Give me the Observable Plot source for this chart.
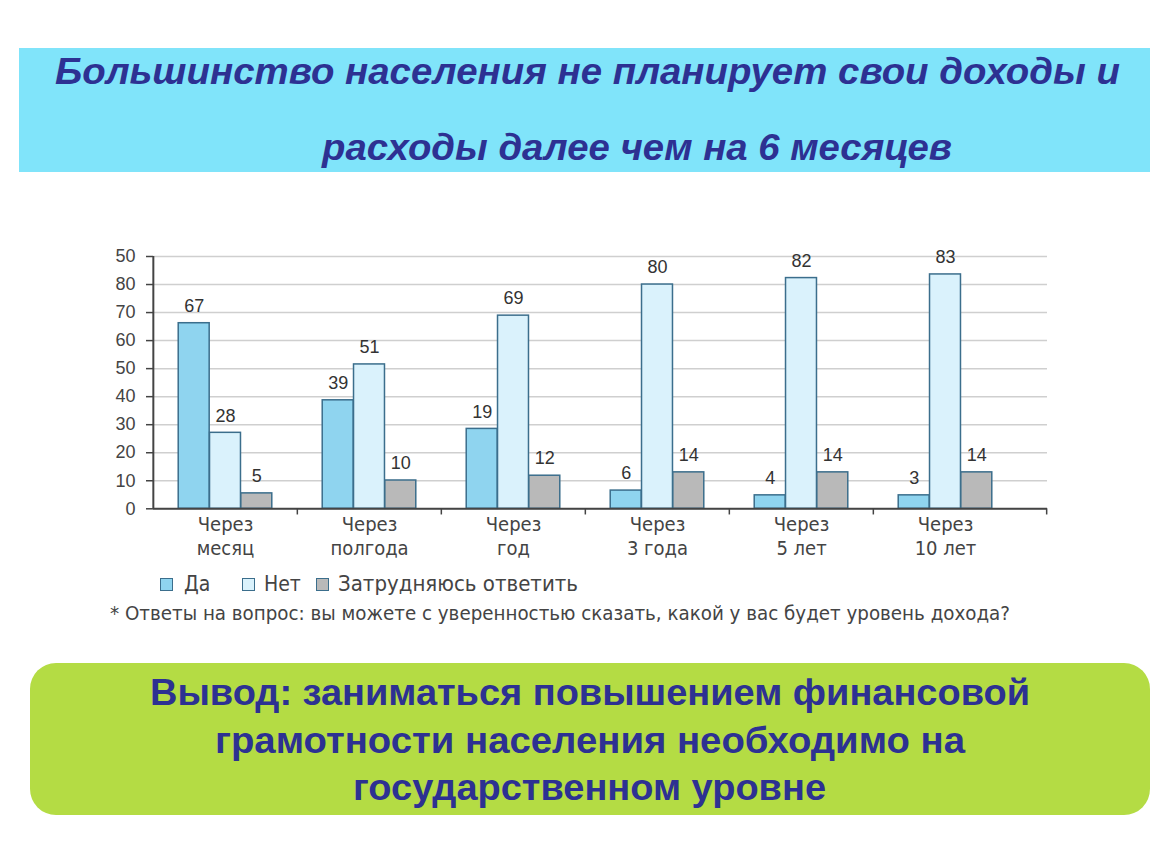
<!DOCTYPE html>
<html>
<head>
<meta charset="utf-8">
<script src="https://cdn.jsdelivr.net/npm/d3@7"></script>
<script src="https://cdn.jsdelivr.net/npm/@observablehq/plot@0.6"></script>
<style>
  html, body { margin: 0; padding: 0; background: #fff; }
  body { width: 1150px; height: 864px; position: relative; overflow: hidden; }
  .band { position: absolute; left: 19px; top: 48px; width: 1131px; height: 124px; background: #80e4fa; }
  .t { position: absolute; white-space: nowrap; color: #2d3192; font-family: "Liberation Sans", Arial, sans-serif;
       font-weight: bold; font-style: italic; font-size: 36px; line-height: 42px; }
  #t1 { top: 51px; }
  #t2 { top: 127px; }
  #chart { position: absolute; left: 0; top: 240px; }
  .cond { position: absolute; white-space: nowrap; font-family: "DejaVu Sans Condensed", "Liberation Sans", sans-serif; color: #444; }
  .sw { position: absolute; width: 11px; height: 11px; border: 1.5px solid #3b6e8c; }
  .green { position: absolute; left: 30px; top: 663px; width: 1120px; height: 152px; border-radius: 26px; background: #b4dc44; }
  .g { position: absolute; white-space: nowrap; color: #2d3192;
       font-family: "Liberation Sans", Arial, sans-serif; font-weight: bold; font-size: 36px; line-height: 42px; }
</style>
</head>
<body>
<div class="band"></div>
<div class="t fit" id="t1" data-l="55" data-r="1120">Большинство населения не планирует свои доходы и</div>
<div class="t fit" id="t2" data-l="322" data-r="952">расходы далее чем на 6 месяцев</div>
<div id="chart"></div>
<div id="legend"></div>
<div id="note" class="cond fit" data-l="110" data-r="1010" style="top:601px; font-size:20px; line-height:24px">* Ответы на вопрос: вы можете с уверенностью сказать, какой у вас будет уровень дохода?</div>
<div class="green"></div>
<div class="g fit" data-l="150" data-r="1030" style="top:672px">Вывод: заниматься повышением финансовой</div>
<div class="g fit" data-l="215" data-r="965" style="top:720px">грамотности населения необходимо на</div>
<div class="g fit" data-l="353" data-r="826" style="top:767px">государственном уровне</div>
<script>
// ---- data ----
const categories = ["Через месяц", "Через полгода", "Через год", "Через 3 года", "Через 5 лет", "Через 10 лет"];
const seriesNames = ["Да", "Нет", "Затрудняюсь ответить"];
// bar heights as drawn in the picture
const yesValues = [66.2, 38.7, 28.5, 6.5, 4.8, 4.8];
const noValues = [27.1, 51.5, 68.9, 80.0, 82.3, 83.6];
const unsureValues = [5.5, 10.1, 11.8, 13.0, 13.0, 13.0];
// printed value labels
const yesLabels = [67, 39, 19, 6, 4, 3];
const noLabels = [28, 51, 69, 80, 82, 83];
const unsureLabels = [5, 10, 12, 14, 14, 14];
// y axis ticks and their printed labels
const yTicks = [0, 10, 20, 30, 40, 50, 60, 70, 80, 90];
const yTickLabels = ["0", "10", "20", "30", "40", "50", "60", "70", "80", "50"];

const colors = ["#8fd4ef", "#daf2fc", "#b9b9b9"];
const strokeC = "#3b6e8c";

const rows = (vals, labs) => categories.map((c, i) => ({cat: c, value: vals[i], label: labs[i]}));
const yesRows = rows(yesValues, yesLabels);
const noRows = rows(noValues, noLabels);
const unsRows = rows(unsureValues, unsureLabels);

const W = 1150, H = 325;
const xRange = [152, 1018];
const bw = (xRange[1] - xRange[0]) / categories.length;
const barW = 31.3;
const half = bw / 2;

const numFont = "'Liberation Sans', Arial, sans-serif";
const condFont = "'DejaVu Sans Condensed', 'Liberation Sans', sans-serif";

const barOpts = (idx) => ({
  x: "cat", y: "value", fill: colors[idx], stroke: strokeC, strokeWidth: 1.5,
  insetLeft: half - barW * 1.5 + barW * idx,
  insetRight: half - barW * 1.5 + barW * (2 - idx)
});
const labOpts = (idx) => ({
  x: "cat", y: "value", text: "label", dx: (idx - 1) * barW, dy: -17,
  fontSize: 18, fill: "#333", fontFamily: numFont
});

const plot = Plot.plot({
  width: W, height: H,
  marginLeft: 153, marginRight: 103, marginTop: 16, marginBottom: 56.7,
  style: {background: "transparent", overflow: "visible"},
  x: {domain: categories, range: xRange, padding: 0, label: null},
  y: {domain: [0, 90], label: null},
  marks: [
    Plot.gridY(yTicks, {stroke: "#cfcfcf", strokeOpacity: 1, strokeWidth: 1.5}),
    Plot.axisY(yTicks, {tickFormat: (d, i) => yTickLabels[i], tickSize: 7, tickPadding: 11, fontSize: 18,
      fill: "#444", stroke: "#444", strokeWidth: 1.5, fontFamily: numFont, label: null}),
    Plot.axisX({tickSize: 0, tickPadding: 5, fontSize: 20, lineHeight: 1.2, fill: "#444",
      fontFamily: condFont, tickFormat: d => d.replace(" ", "\n"), label: null}),
    Plot.barY(yesRows, barOpts(0)),
    Plot.barY(noRows, barOpts(1)),
    Plot.barY(unsRows, barOpts(2)),
    Plot.text(yesRows, labOpts(0)),
    Plot.text(noRows, labOpts(1)),
    Plot.text(unsRows, labOpts(2)),
    Plot.ruleY([0], {stroke: "#444", strokeWidth: 2}),
    Plot.ruleX([categories[0]], {dx: -half, y1: 0, y2: 90, stroke: "#444", strokeWidth: 2}),
    Plot.ruleX(categories.slice(1), {dx: -half, y1: 0, y2: -2.2, stroke: "#444", strokeWidth: 1.5}),
    Plot.ruleX([categories[categories.length - 1]], {dx: half + 29, y1: 0, y2: -2.2, stroke: "#444", strokeWidth: 1.5})
  ]
});
document.getElementById("chart").appendChild(plot);

// legend (HTML, below the SVG)
const lg = document.getElementById("legend");
const swLeft = [160, 242, 316];
const txLeft = [184, 264, 338];
seriesNames.forEach((s, i) => {
  const sw = document.createElement("span");
  sw.className = "sw";
  sw.style.left = swLeft[i] + "px";
  sw.style.top = "578px";
  sw.style.background = colors[i];
  lg.appendChild(sw);
  const tx = document.createElement("span");
  tx.className = "cond";
  tx.textContent = s;
  tx.style.fontSize = "21px";
  tx.style.lineHeight = "24px";
  tx.style.top = "572px";
  tx.style.left = txLeft[i] + "px";
  if (i === 2) { tx.classList.add("fit"); tx.dataset.l = txLeft[i]; tx.dataset.r = 578; }
  lg.appendChild(tx);
});

// fit texts horizontally to the reference widths
document.querySelectorAll(".fit").forEach(el => {
  const l = +el.dataset.l, r = +el.dataset.r;
  el.style.left = l + "px";
  const w = el.getBoundingClientRect().width;
  el.style.transformOrigin = "0 50%";
  el.style.transform = `scaleX(${(r - l) / w})`;
});
</script>
</body>
</html>
